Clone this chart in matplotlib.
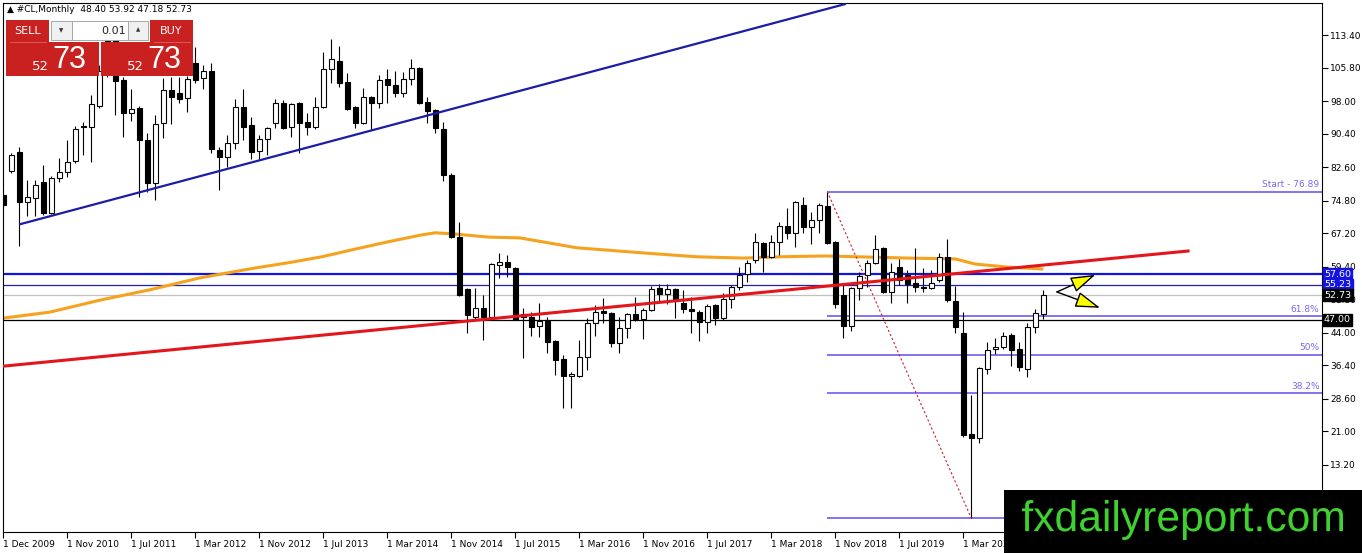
import matplotlib
matplotlib.use('Agg')
import matplotlib.pyplot as plt
from matplotlib.patches import Rectangle, PathPatch
from matplotlib.textpath import TextPath
from matplotlib.font_manager import FontProperties
import matplotlib.transforms as mtransforms

# monthly candles, bar index 0 = Dec 2009 (broker data has gaps)
opens = [76.1, 81.7, 86.1, 74.5, 75.4, 79.1, 71.9, 80.1, 81.5, 84.0,
         92.2, 92.0, 96.9, 105.0, 112.5, 102.9, 95.2, 96.4, 88.9, 78.9,
         92.9, 100.6, 99.9, 98.7, 106.9, 103.4, 105.0, 86.6, 85.0, 88.2,
         96.6, 92.4, 86.4, 89.2, 92.9, 97.6, 92.0, 97.6, 93.1, 92.0,
         96.6, 105.5, 107.3, 102.5, 96.6, 92.9, 99.0, 97.6, 103.1, 101.7,
         99.9, 103.1, 105.7, 97.8, 95.9, 91.5, 80.8, 66.3, 54.2, 47.7,
         49.8, 47.7, 59.8, 60.5, 59.1, 48.4, 47.7, 45.6, 46.7, 42.1,
         37.9, 33.9, 33.9, 38.3, 46.3, 49.1, 48.6, 41.6, 45.1, 48.4,
         47.2, 49.3, 54.4, 53.0, 54.2, 50.9, 49.5, 48.8, 46.5, 50.5,
         47.4, 51.9, 54.7, 57.7, 61.0, 64.9, 61.7, 65.2, 68.9, 67.3,
         73.8, 68.7, 70.3, 73.5, 65.2, 52.8, 45.6, 54.4, 57.5, 60.2,
         63.8, 53.5, 59.3, 57.5, 55.6, 54.7, 54.4, 56.3, 61.7, 51.4,
         43.9, 20.4, 19.5, 35.6, 40.2, 40.7, 43.5, 40.2, 35.6, 45.3,
         48.40]
highs = [77.3, 85.9, 87.3, 79.6, 79.6, 83.1, 80.5, 84.7, 88.9, 92.2,
         93.1, 99.4, 106.5, 113.9, 114.0, 103.6, 100.8, 96.9, 90.6, 94.8,
         103.4, 103.6, 103.6, 103.8, 110.6, 106.4, 106.9, 87.3, 90.1, 98.5,
         100.8, 94.3, 90.1, 92.0, 98.5, 98.3, 97.6, 97.8, 95.2, 99.0,
         109.4, 112.5, 110.8, 104.5, 96.8, 101.0, 99.2, 104.1, 105.5, 105.0,
         104.8, 107.8, 106.0, 99.0, 96.2, 93.1, 81.2, 69.8, 54.4, 54.4,
         52.8, 60.3, 62.6, 62.1, 59.3, 49.8, 48.8, 50.9, 47.7, 42.3,
         38.8, 34.9, 42.3, 47.4, 50.5, 52.1, 48.8, 47.7, 48.6, 52.3,
         49.8, 54.9, 55.4, 55.4, 54.4, 54.0, 52.3, 49.3, 50.7, 50.7,
         53.3, 55.1, 59.3, 61.0, 67.3, 65.2, 66.8, 69.8, 73.1, 74.7,
         75.6, 72.1, 74.2, 76.89, 65.4, 55.1, 54.7, 58.2, 61.0, 66.8,
         64.0, 60.3, 61.2, 58.6, 63.8, 59.1, 58.6, 62.6, 65.9, 54.9,
         48.8, 29.5, 36.0, 41.8, 42.8, 44.2, 43.9, 41.8, 46.3, 49.5,
         53.92]
lows = [73.3, 81.2, 64.2, 71.2, 71.2, 71.4, 71.6, 79.1, 80.3, 83.6,
        85.4, 83.8, 96.4, 103.5, 94.8, 89.6, 93.4, 75.6, 76.8, 74.9,
        89.4, 92.7, 97.6, 95.5, 102.2, 100.8, 85.9, 77.3, 82.6, 86.8,
        88.9, 84.5, 84.5, 85.4, 91.7, 91.5, 89.6, 85.9, 90.1, 91.5,
        96.4, 102.2, 101.3, 95.9, 91.7, 92.7, 91.3, 96.4, 97.5, 99.0,
        99.0, 101.7, 97.3, 92.9, 90.6, 79.4, 66.1, 52.6, 43.9, 47.0,
        42.3, 47.5, 56.8, 57.0, 47.0, 38.1, 43.2, 43.0, 39.3, 34.2,
        26.5, 26.5, 33.7, 35.3, 43.2, 46.3, 40.7, 39.3, 42.8, 46.7,
        42.5, 49.1, 51.2, 50.7, 47.4, 48.6, 43.9, 42.1, 43.9, 45.8,
        47.0, 49.8, 54.0, 55.8, 60.2, 58.2, 61.4, 62.1, 65.9, 64.0,
        67.3, 64.7, 67.3, 64.7, 49.8, 42.8, 44.4, 51.6, 54.7, 60.0,
        53.3, 50.9, 55.1, 50.9, 53.5, 53.5, 54.2, 55.8, 51.2, 43.9,
        19.7, 0.8, 18.3, 34.4, 39.0, 40.2, 36.2, 35.1, 33.7, 43.9,
        47.18]
closes = [73.8, 85.4, 74.5, 75.6, 78.4, 71.9, 80.1, 81.5, 83.8, 91.5,
          92.0, 97.3, 105.0, 112.0, 102.7, 95.2, 96.2, 88.9, 78.9, 92.7,
          100.6, 99.0, 98.5, 103.1, 102.9, 105.0, 86.8, 85.0, 88.2, 96.6,
          92.0, 86.1, 89.2, 91.7, 97.5, 91.7, 97.3, 92.9, 92.0, 96.6,
          105.5, 107.8, 102.2, 96.2, 92.9, 99.0, 97.5, 102.9, 101.7, 99.9,
          103.1, 105.7, 97.5, 95.7, 91.7, 80.8, 66.3, 52.8, 48.1, 49.8,
          47.7, 60.0, 60.5, 59.3, 47.2, 47.7, 45.3, 46.7, 41.8, 37.6,
          33.9, 34.4, 38.3, 46.3, 48.8, 48.6, 41.6, 45.1, 48.4, 47.2,
          49.3, 54.2, 53.0, 54.2, 51.9, 49.5, 49.1, 46.5, 50.2, 47.4,
          51.9, 54.7, 57.5, 60.2, 65.2, 61.7, 65.2, 68.9, 67.3, 74.5,
          68.7, 70.3, 73.8, 64.9, 50.7, 45.6, 54.4, 57.2, 60.2, 63.5,
          53.5, 58.2, 56.3, 55.4, 54.7, 54.4, 55.6, 61.7, 51.6, 45.3,
          20.2, 19.5, 35.8, 40.0, 40.7, 43.2, 40.0, 36.0, 45.3, 48.6,
          52.73]

date_labels = ['1 Dec 2009', '1 Nov 2010', '1 Jul 2011', '1 Mar 2012', '1 Nov 2012',
               '1 Jul 2013', '1 Mar 2014', '1 Nov 2014', '1 Jul 2015', '1 Mar 2016',
               '1 Nov 2016', '1 Jul 2017', '1 Mar 2018', '1 Nov 2018', '1 Jul 2019',
               '1 Mar 2020']
price_ticks = [113.40, 105.80, 98.00, 90.40, 82.60, 74.80, 67.20, 59.40,
               51.80, 44.00, 36.40, 28.60, 21.00, 13.20]

# moving average (orange), read at sample bars
ma_bars = [0, 5.8, 12.1, 18.3, 24.6, 31.5, 35.6, 39.8, 44.0, 48.1, 52.3, 54.0,
           56.5, 60.6, 64.6, 71.7, 80.0, 86.7, 92.5, 97.1, 102.7, 106.8, 113.1,
           119.0, 121.5, 125.6, 130.0]
ma_values = [47.4, 48.8, 51.6, 54.0, 56.8, 59.1, 60.3, 61.7, 63.5, 65.2, 66.8, 67.3,
             67.0, 66.3, 66.1, 63.8, 62.6, 61.7, 61.4, 61.7, 61.9, 61.7, 61.4,
             61.2, 60.0, 59.3, 58.85]

# trend lines (bar, price) anchors
blue_trend = [(2.1, 69.3), (105.2, 120.6)]
red_trend = [(-0.04, 36.2), (148.1, 63.05)]

# horizontal levels
level_blue = 57.60
level_navy = 55.23
level_bid = 52.73
level_black = 47.00

# fibonacci retracement
fib_start_bar, fib_end_bar = 103, 121
fib_high, fib_low = 76.89, 0.8
fib_ratios = [0.382, 0.5, 0.618]
fib_names = ['38.2%', '50%', '61.8%']

header = '\u25B2 #CL,Monthly  48.40 53.92 47.18 52.73'
site = 'fxdailyreport.com'

W, H = 1362, 553
fig = plt.figure(figsize=(W / 100, H / 100), dpi=100)
ax = fig.add_axes([3 / W, 21 / H, 1319 / W, 529 / H])
x_lo, x_hi = -0.04, 164.84
ax.set_xlim(x_lo, x_hi)
ax.set_ylim(-2.45, 120.86)

# horizontal lines
ax.axhline(level_blue, color='#1414e0', lw=1.6, zorder=2)
ax.axhline(level_navy, color='#2020a8', lw=0.9, zorder=2)
ax.axhline(level_bid, color='#c0c0c0', lw=0.9, zorder=2)
ax.axhline(level_black, color='black', lw=0.9, zorder=2)

# fib lines
fib_levels = [fib_low + r * (fib_high - fib_low) for r in fib_ratios]
fib_col = '#7b68ee'
ax.hlines([fib_high, fib_low] + fib_levels, fib_start_bar, x_hi, color=fib_col, lw=1.3, zorder=2)
for lv, nm in zip(fib_levels, fib_names):
    ax.text(x_hi - 0.3, lv + 0.6, nm, ha='right', va='bottom', color=fib_col, fontsize=6.5, zorder=6)
ax.text(x_hi - 0.3, fib_high + 0.6, 'Start - %.2f' % fib_high, ha='right', va='bottom',
        color=fib_col, fontsize=6.5, zorder=6)
ax.plot([fib_start_bar, fib_end_bar], [fib_high, fib_low], color='#cc2030', lw=0.8,
        ls=(0, (2, 2)), zorder=5)

# moving average
ax.plot(ma_bars, ma_values, color='#f5a21e', lw=2.2, zorder=2.5, solid_capstyle='butt')

# candles
for i in range(len(opens)):
    o, h, l, c = opens[i], highs[i], lows[i], closes[i]
    ax.vlines(i, l, h, color='black', lw=0.8, zorder=3)
    bottom = min(o, c)
    height = max(abs(c - o), 0.25)
    fc = 'white' if c >= o else 'black'
    ax.add_patch(Rectangle((i - 0.3, bottom), 0.6, height, fc=fc, ec='black', lw=0.8, zorder=4))

# trend lines
ax.plot([p[0] for p in blue_trend], [p[1] for p in blue_trend], color='#1c1ca8', lw=1.6, zorder=5)
ax.plot([p[0] for p in red_trend], [p[1] for p in red_trend], color='#e4151b', lw=2.2, zorder=5)

# arrows
for end in [(136.5, 57.5), (137.1, 49.8)]:
    ax.annotate('', xy=end, xytext=(131.7, 53.5),
                arrowprops=dict(arrowstyle='-|>,head_length=1.1,head_width=0.35',
                                fc='yellow', ec='black', lw=1.0, mutation_scale=14,
                                shrinkA=0, shrinkB=0), zorder=6)

# axes styling
for s in ax.spines.values():
    s.set_color('black')
    s.set_linewidth(0.8)
ax.yaxis.tick_right()
ax.set_yticks(price_ticks)
ax.set_yticklabels(['%.2f' % v for v in price_ticks])
ax.set_xticks(range(0, 8 * len(date_labels), 8))
ax.set_xticklabels(date_labels)
for lab in ax.get_xticklabels():
    lab.set_ha('left')
ax.tick_params(axis='both', direction='out', length=4, width=0.8, labelsize=6.5, pad=2,
               colors='black')

# price boxes on right axis (drawn over the tick labels, as in the terminal)
tr = mtransforms.blended_transform_factory(ax.transAxes, ax.transData)
for val, bg in [(level_blue, '#1414e0'), (level_navy, '#1414e0'),
                (level_bid, 'black'), (level_black, 'black')]:
    ax.text(1.0015, val, '%.2f' % val, transform=tr, ha='left', va='center', color='white',
            fontsize=6.8, zorder=10, clip_on=False,
            bbox=dict(boxstyle='square,pad=0.15', fc=bg, ec=bg))

fig.text(7 / W, 1 - 10 / H, header, fontsize=6.5, va='center', ha='left')

# overlay for trade panel and watermark
ov = fig.add_axes([0, 0, 1, 1])
ov.set_xlim(0, W)
ov.set_ylim(H, 0)
ov.axis('off')
ov.set_zorder(20)

red = '#c92020'
ov.add_patch(Rectangle((6, 20), 43, 22, fc=red, ec='none'))
ov.add_patch(Rectangle((150, 20), 43, 22, fc=red, ec='none'))
ov.add_patch(Rectangle((6, 42), 93, 34, fc=red, ec='none'))
ov.add_patch(Rectangle((101, 42), 92, 34, fc=red, ec='none'))
ov.plot([10, 46], [42, 42], color='#e06060', lw=0.6)
ov.plot([154, 190], [42, 42], color='#e06060', lw=0.6)
ov.add_patch(Rectangle((51, 21), 21, 19, fc='#f0f0f0', ec='#a8a8a8', lw=0.7))
ov.add_patch(Rectangle((72, 21), 56, 19, fc='white', ec='#a8a8a8', lw=0.7))
ov.add_patch(Rectangle((128, 21), 20, 19, fc='#f0f0f0', ec='#a8a8a8', lw=0.7))
ov.text(61.5, 30.5, '\u25BC', fontsize=4, ha='center', va='center', color='#333333')
ov.text(138, 30, '\u25B2', fontsize=4, ha='center', va='center', color='#333333')
ov.text(126, 30.5, '0.01', fontsize=8, ha='right', va='center', color='#222222')
ov.text(27.5, 31, 'SELL', fontsize=8, ha='center', va='center', color='white')
ov.text(171.5, 31, 'BUY', fontsize=8, ha='center', va='center', color='white')
for x0 in (6, 101):
    ov.text(x0 + 43, 67, '52', fontsize=9.5, ha='right', va='center', color='white')
    ov.text(x0 + 46, 60, '73', fontsize=22, ha='left', va='center', color='white',
            family='Liberation Sans')

# watermark box, text squeezed to the narrow look of the original
ov.add_patch(Rectangle((1004, 490), W - 1004, H - 490, fc='black', ec='none'))
tp = TextPath((0, 0), site, size=40, prop=FontProperties(family='Liberation Sans'))
bb = tp.get_extents()
fit = mtransforms.Affine2D().translate(-bb.x0, -bb.y0).scale(321 / bb.width, -40 / bb.height) \
    .translate(1022, 540)
ov.add_patch(PathPatch(fit.transform_path(tp), fc='#3fd12f', ec='none'))

fig.savefig('out.png', dpi=100)
